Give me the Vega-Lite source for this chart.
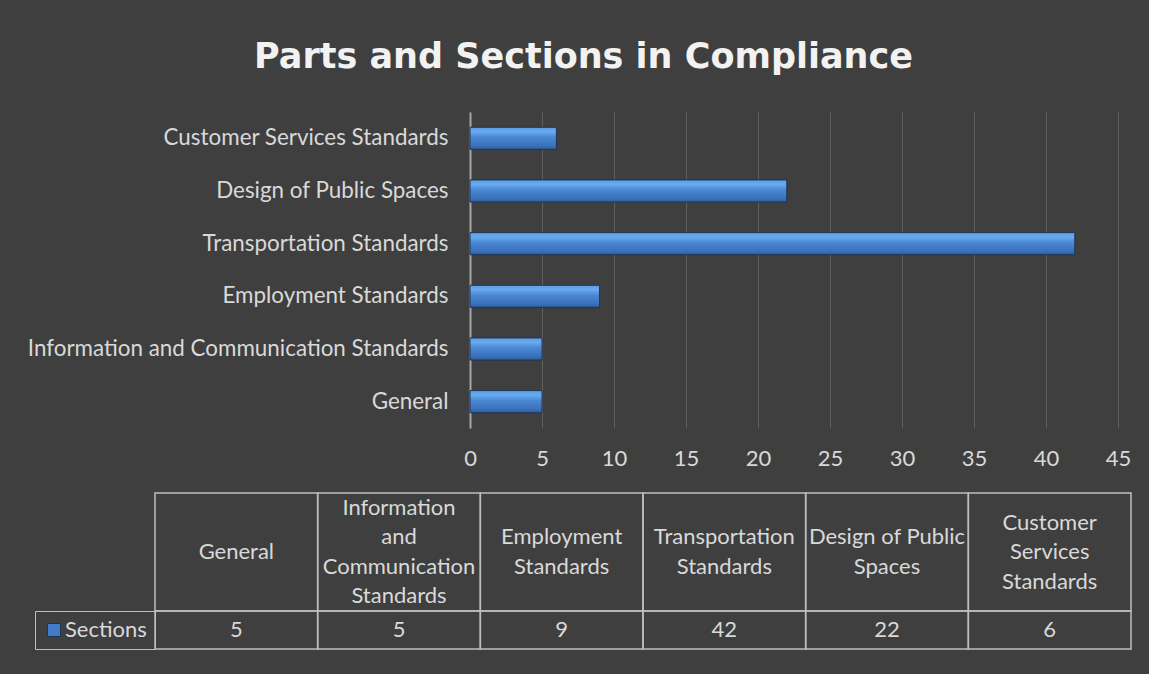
{
  "$schema": "https://vega.github.io/schema/vega-lite/v6.json",
  "background": "#3f3f3f",
  "autosize": {"type": "none"},
  "padding": {"left": 155, "top": 112, "right": 994, "bottom": 562},
  "title": {
    "text": "Parts and Sections in Compliance",
    "anchor": "middle",
    "font": "DejaVu Sans",
    "fontSize": 35,
    "fontWeight": "bold",
    "color": "#f2f2f2",
    "dx": 4,
    "offset": 37
  },
  "config": {
    "font": "Lato",
    "view": {"stroke": null},
    "axis": {"labelFont": "Lato", "labelColor": "#d9d9d9", "labelFontSize": 22}
  },
  "datasets": {
    "parts": [
      {"part": "General", "header": "General", "sections": 5},
      {"part": "Information and Communication Standards", "header": "Information\nand\nCommunication\nStandards", "sections": 5},
      {"part": "Employment Standards", "header": "Employment\nStandards", "sections": 9},
      {"part": "Transportation Standards", "header": "Transportation\nStandards", "sections": 42},
      {"part": "Design of Public Spaces", "header": "Design of Public\nSpaces", "sections": 22},
      {"part": "Customer Services Standards", "header": "Customer\nServices\nStandards", "sections": 6}
    ]
  },
  "vconcat": [
    {
      "width": 976,
      "height": 316,
      "data": {"name": "parts"},
      "mark": {
        "type": "bar",
        "stroke": "#1d3555",
        "strokeWidth": 1,
        "color": {
          "gradient": "linear",
          "x1": 0, "y1": 0, "x2": 0, "y2": 1,
          "stops": [
            {"offset": 0, "color": "#5d9de6"},
            {"offset": 0.2, "color": "#6aaaf0"},
            {"offset": 0.45, "color": "#4a88d4"},
            {"offset": 0.85, "color": "#3a70b8"},
            {"offset": 1, "color": "#2c5c9c"}
          ]
        }
      },
      "encoding": {
        "y": {
          "field": "part",
          "type": "nominal",
          "sort": ["Customer Services Standards", "Design of Public Spaces", "Transportation Standards", "Employment Standards", "Information and Communication Standards", "General"],
          "scale": {"paddingInner": 0.58, "paddingOuter": 0.29},
          "axis": {
            "title": null,
            "offset": -315,
            "domainColor": "#a6a6a6",
            "domainWidth": 2,
            "ticks": false,
            "labelPadding": 22,
            "labelLimit": 0,
            "labelFontSize": 22.4
          }
        },
        "x": {
          "field": "sections",
          "type": "quantitative",
          "scale": {"domain": [0, 45], "range": [315, 963], "nice": false},
          "axis": {
            "title": null,
            "values": [0, 5, 10, 15, 20, 25, 30, 35, 40, 45],
            "domain": false,
            "ticks": false,
            "grid": true,
            "gridColor": "#8a8a8a",
            "gridOpacity": 0.45,
            "labelPadding": 20,
            "labelFlush": false
          }
        }
      }
    },
    {
      "vconcat": [
        {
          "width": 976,
          "height": 118,
          "data": {"name": "parts"},
          "encoding": {
            "x": {
              "field": "part",
              "type": "nominal",
              "sort": ["General", "Information and Communication Standards", "Employment Standards", "Transportation Standards", "Design of Public Spaces", "Customer Services Standards"],
              "scale": {"paddingInner": 0, "paddingOuter": 0},
              "axis": null
            }
          },
          "layer": [
            {"mark": {"type": "rect", "fill": "transparent", "stroke": "#bfbfbf", "strokeWidth": 1.5}},
            {
              "mark": {
                "type": "text",
                "lineBreak": "\n",
                "lineHeight": 29.5,
                "fontSize": 22,
                "color": "#d9d9d9",
                "baseline": "middle",
                "font": "Lato",
                "dy": {"expr": "-(length(split(datum.header, '\\n')) - 1) * 14.75"}
              },
              "encoding": {"text": {"field": "header"}}
            }
          ]
        },
        {
          "width": 976,
          "height": 38,
          "data": {"name": "parts"},
          "encoding": {
            "x": {
              "field": "part",
              "type": "nominal",
              "sort": ["General", "Information and Communication Standards", "Employment Standards", "Transportation Standards", "Design of Public Spaces", "Customer Services Standards"],
              "scale": {"paddingInner": 0, "paddingOuter": 0},
              "axis": null
            }
          },
          "layer": [
            {"mark": {"type": "rect", "fill": "transparent", "stroke": "#bfbfbf", "strokeWidth": 1.5}},
            {
              "mark": {"type": "text", "fontSize": 22, "color": "#d9d9d9", "baseline": "middle", "font": "Lato"},
              "encoding": {"text": {"field": "sections", "type": "quantitative"}}
            },
            {
              "mark": {"type": "point", "shape": "square", "filled": true, "size": 0},
              "encoding": {
                "color": {
                  "datum": "Sections",
                  "scale": {"range": ["#3f7bc6"]},
                  "legend": {
                    "title": null,
                    "orient": "left",
                    "offset": 0,
                    "padding": 8,
                    "strokeColor": "#bfbfbf",
                    "symbolType": "square",
                    "symbolSize": 169,
                    "symbolOpacity": 1,
                    "symbolStrokeColor": "#1d3555",
                    "symbolStrokeWidth": 1,
                    "labelFont": "Lato",
                    "labelFontSize": 22,
                    "labelColor": "#d9d9d9",
                    "labelOffset": 0
                  }
                }
              }
            }
          ]
        }
      ],
      "spacing": 0,
      "bounds": "flush",
      "resolve": {"scale": {"color": "independent"}, "legend": {"color": "independent"}}
    }
  ],
  "spacing": 65,
  "bounds": "flush",
  "resolve": {"scale": {"color": "independent"}, "legend": {"color": "independent"}}
}
